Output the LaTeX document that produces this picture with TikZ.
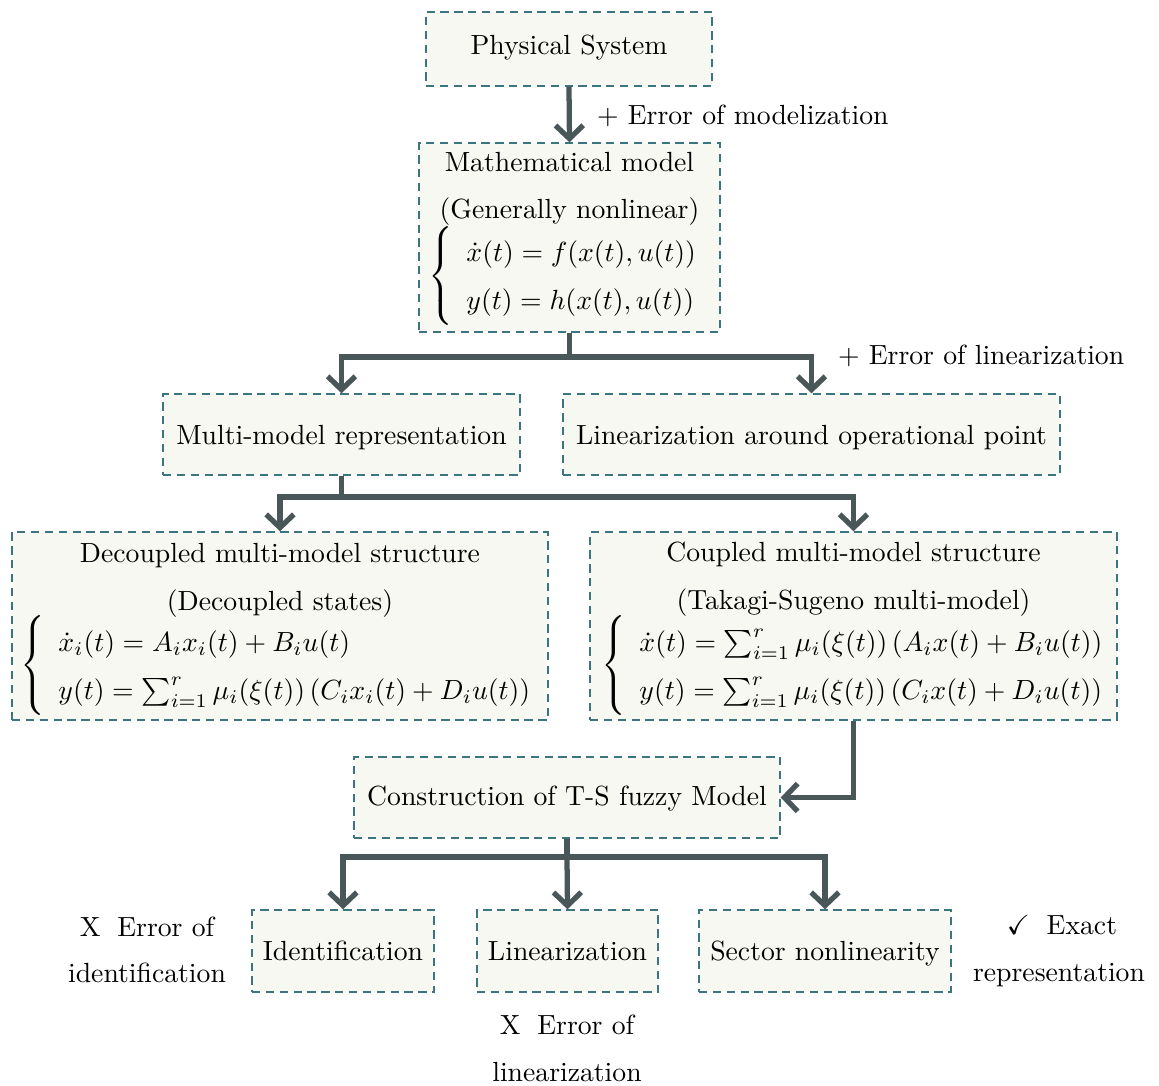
\documentclass[tikz,border=0pt]{standalone}
\usepackage{amsmath,amssymb}
\usetikzlibrary{arrows.meta,fit}

\definecolor{boxline}{HTML}{3A7580}
\definecolor{boxbg}{HTML}{F8F8F2}
\definecolor{flowline}{HTML}{4A5759}

\tikzset{
  box/.style={draw=boxline, fill=boxbg, line width=0.5pt,
              dash pattern=on 3pt off 2pt, inner sep=0pt},
  txt/.style={anchor=base, inner sep=0pt, outer sep=0pt},
  eqn/.style={anchor=west, inner sep=0pt, outer sep=0pt},
  flow/.style={draw=flowline, line width=1.9pt, line join=miter,
               -{Straight Barb[length=4.8pt,width=10pt]}},
  trunk/.style={draw=flowline, line width=1.9pt, line join=miter},
}
\newcommand{\casesys}[2]{{\renewcommand{\arraystretch}{1.44}%
  $\left\{\begin{array}{l}#1\\#2\end{array}\right.$}}

\begin{document}
\begin{tikzpicture}[x=0.361pt, y=-0.361pt]
\useasboundingbox (0,0) rectangle (1159,1086);

% ---------- boxes ----------
\node[box, fit={(426,12)(712,86)}]     (ps)  {};
\node[box, fit={(419,143)(720,332)}]   (mm)  {};
\node[box, fit={(163,394)(520,475)}]   (mr)  {};
\node[box, fit={(563,394)(1060,475)}]  (lop) {};
\node[box, fit={(12,532)(548,720)}]    (dec) {};
\node[box, fit={(590,532)(1117,720)}]  (cpl) {};
\node[box, fit={(354,757)(780,838)}]   (ts)  {};
\node[box, fit={(252,910)(434,992)}]   (idf) {};
\node[box, fit={(477,910)(658,992)}]   (lin) {};
\node[box, fit={(699,910)(951,992)}]   (sec) {};

% ---------- box texts ----------
\node[txt] (psT) at (569,55) {Physical System};

\node[txt] (mmT1) at (569.5,172) {Mathematical model};
\node[txt] (mmT2) at (569.5,219) {(Generally nonlinear)};
\node[eqn] (mmE) at (428,276)
  {\casesys{\dot{x}(t)=f(x(t),u(t))}{y(t)=h(x(t),u(t))}};

\node[txt] (mrT)  at (341.5,445) {Multi-model representation};
\node[txt] (lopT) at (811.5,445) {Linearization around operational point};

\node[txt] (decT1) at (280,563) {Decoupled multi-model structure};
\node[txt] (decT2) at (280,611) {(Decoupled states)};
\node[eqn] (decE) at (20,665.5)
  {\casesys{\dot{x}_i(t)=A_ix_i(t)+B_iu(t)}
           {y(t)=\sum_{i=1}^{r}\mu_i(\xi(t))\,(C_ix_i(t)+D_iu(t))}};

\node[txt] (cplT1) at (853.5,562) {Coupled multi-model structure};
\node[txt] (cplT2) at (853.5,610) {(Takagi-Sugeno multi-model)};
\node[eqn] (cplE) at (601,665.5)
  {\casesys{\dot{x}(t)=\sum_{i=1}^{r}\mu_i(\xi(t))\,(A_ix(t)+B_iu(t))}
           {y(t)=\sum_{i=1}^{r}\mu_i(\xi(t))\,(C_ix(t)+D_iu(t))}};

\node[txt] (tsT)  at (567,806) {Construction of T-S fuzzy Model};
\node[txt] (idfT) at (343,961) {Identification};
\node[txt] (linT) at (567.5,961) {Linearization};
\node[txt] (secT) at (825,961) {Sector nonlinearity};

% ---------- annotations ----------
\node[txt, anchor=base west] (eMod) at (597,125) {+ Error of modelization};
\node[txt, anchor=base west] (eLin) at (838,365) {+ Error of linearization};

\node[txt] (eId1) at (147,937) {X\hspace{6pt}Error of};
\node[txt] (eId2) at (147,983) {identification};
\node[txt] (eLz1) at (567,1035) {X\hspace{6pt}Error of};
\node[txt] (eLz2) at (567,1082) {linearization};
\node[txt] (ex1)  at (1062,935) {$\checkmark$\hspace{6pt}Exact};
\node[txt] (ex2)  at (1059,982) {representation};

% ---------- junctions ----------
\coordinate (j1) at (569.5,357);
\coordinate (j2) at (341.5,497);
\coordinate (j3) at (567,857);

% ---------- connectors ----------
\draw[flow] (ps.south) -- (mm.north);

\draw[trunk] (mm.south) -- (j1);
\draw[flow] (j1) -| (mr.north);
\draw[flow] (j1) -| (lop.north);

\draw[trunk] (mr.south) -- (j2);
\draw[flow] (j2) -| (dec.north);
\draw[flow] (j2) -| (cpl.north);

\draw[flow] (cpl.south) |- (ts.east);

\draw[trunk] (ts.south) -- (j3);
\draw[flow] (j3) -| (idf.north);
\draw[flow] (j3) -- (lin.north);
\draw[flow] (j3) -| (sec.north);
\end{tikzpicture}
\end{document}
